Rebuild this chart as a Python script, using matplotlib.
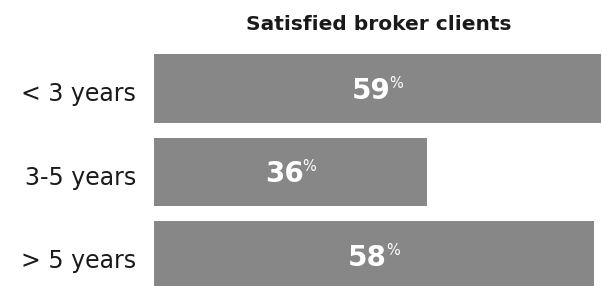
import matplotlib.pyplot as plt
import matplotlib.transforms as mtransforms
import numpy as np

categories = ["< 3 years", "3-5 years", "> 5 years"]
values = [59, 36, 58]
title = "Satisfied broker clients"

bar_color = "#878787"
plt.rcParams['font.family'] = ['DejaVu Sans']

fig = plt.figure(figsize=(6.02, 2.86), dpi=100)
ax = fig.add_axes([154 / 602, 0, 448 / 602, 1])

y = np.arange(len(categories))
ax.barh(y, values, height=0.82, color=bar_color, linewidth=0)
ax.set_xlim(0, 59.1)
ax.set_ylim(2.365, -1.06)

ax.set_yticks(y)
ax.set_yticklabels(categories, fontsize=17, color="#1a1a1a")
ax.tick_params(axis='y', length=0, pad=13)
ax.tick_params(axis='x', bottom=False, labelbottom=False)
for s in ax.spines.values():
    s.set_visible(False)
# labels sit a little lower than the bar centres in the original
shift = mtransforms.ScaledTranslation(0, -3 / 100, fig.dpi_scale_trans)
for lab in ax.get_yticklabels():
    lab.set_transform(lab.get_transform() + shift)

fig.text(379 / 602, 1 - 24 / 286, title, ha='center', va='center',
         fontsize=14.5, fontweight='bold', color="#1a1a1a")

# value labels: bold number + small raised percent sign, centred as a group
r = fig.canvas.get_renderer()
gap = -1
for yi, v in zip(y, values):
    num = ax.annotate(str(v), xy=(v / 2, yi), xytext=(0, -10),
                      textcoords='offset pixels', ha='left', va='baseline',
                      fontsize=20, fontweight='bold', color='white')
    pct = ax.annotate("%", xy=(v / 2, yi), xytext=(0, 0),
                      textcoords='offset pixels', ha='left', va='baseline',
                      fontsize=10.5, color='white')
    w = num.get_window_extent(r).width
    pw = pct.get_window_extent(r).width
    left = -(w + gap + pw) / 2
    num.set_position((left, -10))
    pct.set_position((left + w + gap, 1))

fig.savefig("out.png", dpi=100)
